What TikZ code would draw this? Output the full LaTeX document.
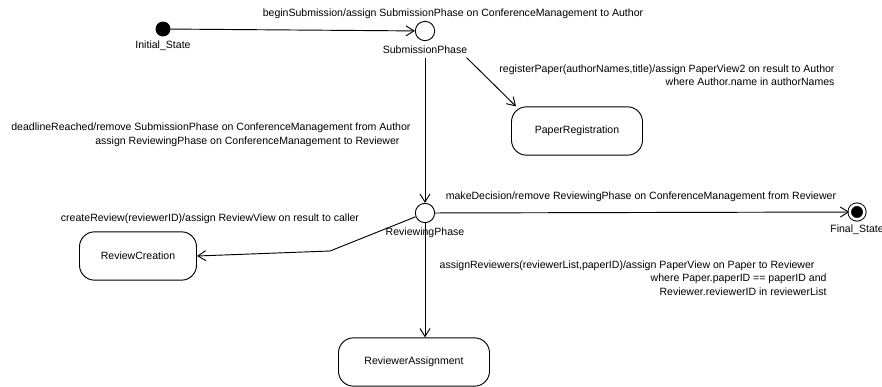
\documentclass[tikz,border=0pt]{standalone}
\usepackage{fontspec}
\setmainfont{Liberation Sans}
\usetikzlibrary{positioning, arrows, arrows.meta}

\begin{document}
\begin{tikzpicture}[x=0.03cm, y=-0.03cm, line width=0.8pt,
  font=\fontsize{9}{11.5}\selectfont,
  initst/.style={circle, draw, fill=black, minimum size=0.42cm, inner sep=0pt},
  pstate/.style={circle, draw, fill=white, minimum size=0.58cm, inner sep=0pt},
  finst/.style={circle, draw, fill=black, double=white, double distance=2.2pt,
    minimum size=0.44cm, inner sep=0pt},
  state/.style={draw, rounded corners=0.45cm, minimum height=1.45cm},
  lbl/.style={inner sep=0pt},
  trans/.style={-{Straight Barb[length=2.4mm,width=3mm]}}]
\useasboundingbox (0,0) rectangle (882,387);
% pseudo states
\node[initst, label=below:Initial\_State] (init) at (163,29) {};
\node[pstate, label={[name=subL]below:SubmissionPhase}] (sub) at (425,31) {};
\node[pstate, label=below:ReviewingPhase] (rev) at (425,213) {};
\node[finst, label={[yshift=-0.03cm]below:Final\_State}] (fin) at (857,212) {};
% states
\node[state, minimum width=3.93cm] (reg) at (577,131) {PaperRegistration};
\node[state, minimum width=3.51cm] (cre) at (138,256) {ReviewCreation};
\node[state, minimum width=4.53cm] (asg) at (414,362) {ReviewerAssignment};
% transition labels
\node[lbl] (beginL) at (453,14) {beginSubmission/assign SubmissionPhase on ConferenceManagement to Author};
\node[lbl, anchor=east, align=right] (regL) at (835,75) {registerPaper(authorNames,title)/assign PaperView2 on result to Author\\
  where Author.name in authorNames};
\node[lbl, anchor=east, align=right] (deadL) at (411,135) {deadlineReached/remove SubmissionPhase on ConferenceManagement from Author\\
  assign ReviewingPhase on ConferenceManagement to Reviewer\hspace*{0.33cm}};
\node[lbl] (creL) at (210,219) {createReview(reviewerID)/assign ReviewView on result to caller};
\node[lbl] (decL) at (641,197) {makeDecision/remove ReviewingPhase on ConferenceManagement from Reviewer};
\node[lbl, anchor=east, align=right] (asgL) at (827,278) {assignReviewers(reviewerList,paperID)/assign PaperView on Paper to Reviewer\hspace*{0.36cm}\\
  where Paper.paperID == paperID and\hspace*{0.9cm}\\
  Reviewer.reviewerID in reviewerList};
% transitions
\coordinate (bendC) at (330,251);
\draw[trans] (init) -- (sub);
\draw[trans] (subL.south -| sub) -- (rev);
\draw[trans] ([xshift=-0.15cm]subL.south east) -- ([xshift=0.15cm]reg.north west);
\draw[trans] (rev) -- (bendC) -- (cre.east);
\draw[trans] (rev) -- (rev |- asg.north);
\draw[trans] (rev) -- (fin);
\end{tikzpicture}
\end{document}
